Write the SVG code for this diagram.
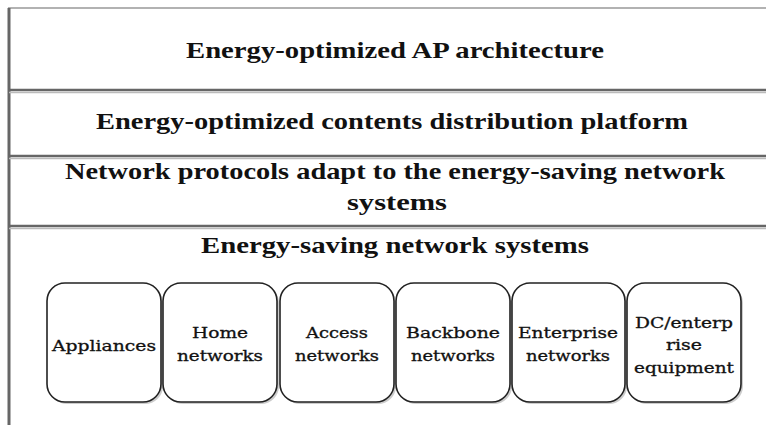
<svg xmlns="http://www.w3.org/2000/svg" width="766" height="425" viewBox="0 0 766 425">
<defs>
<style>
.layer{font-family:"Liberation Serif","DejaVu Serif",serif;font-size:23px;font-weight:bold;fill:#111;text-anchor:middle}
.lbl{font-family:"DejaVu Serif","Liberation Serif",serif;font-size:14.5px;font-weight:normal;fill:#111;text-anchor:middle;stroke:#111;stroke-width:0.3}
.box{fill:#fff;stroke:#222;stroke-width:1.6}
.shadow{fill:#999;opacity:0.5}
.sep{stroke:#666;stroke-width:2.5;fill:none}
.sep2{stroke:#bbb;stroke-width:1.5;fill:none}
</style>
</defs>
<rect width="766" height="425" fill="#fff"/>
<g id="frame">
<line x1="8" y1="8" x2="766" y2="8" stroke="#999" stroke-width="1.5"/>
<line x1="9" y1="8" x2="9" y2="425" stroke="#666" stroke-width="3"/>
<line class="sep" x1="9" y1="90" x2="766" y2="90"/><line class="sep2" x1="9" y1="92.5" x2="766" y2="92.5"/>
<line class="sep" x1="9" y1="156" x2="766" y2="156"/><line class="sep2" x1="9" y1="158.5" x2="766" y2="158.5"/>
<line class="sep" x1="9" y1="226" x2="766" y2="226"/><line class="sep2" x1="9" y1="228.5" x2="766" y2="228.5"/>
</g>
<g id="layer-ap"><text class="layer" x="395" y="58" textLength="418" lengthAdjust="spacingAndGlyphs">Energy-optimized AP architecture</text></g>
<g id="layer-cdp"><text class="layer" x="392" y="129" textLength="592" lengthAdjust="spacingAndGlyphs">Energy-optimized contents distribution platform</text></g>
<g id="layer-protocols"><text class="layer" x="395" y="179" textLength="660" lengthAdjust="spacingAndGlyphs">Network protocols adapt to the energy-saving network</text><text class="layer" x="397" y="210" textLength="100" lengthAdjust="spacingAndGlyphs">systems</text></g>
<g id="layer-systems"><text class="layer" x="395" y="253" textLength="388" lengthAdjust="spacingAndGlyphs">Energy-saving network systems</text></g>
<g id="connectors"></g>
<g id="box-appliances"><rect class="shadow" x="49" y="285" width="114" height="119" rx="18"/><rect class="box" x="47" y="283" width="114" height="119" rx="18"/><text class="lbl" x="104" y="351" textLength="104" lengthAdjust="spacingAndGlyphs">Appliances</text></g>
<g id="box-home"><rect class="shadow" x="165" y="285" width="114" height="119" rx="18"/><rect class="box" x="163" y="283" width="114" height="119" rx="18"/><text class="lbl" x="220" y="338" textLength="56" lengthAdjust="spacingAndGlyphs">Home</text><text class="lbl" x="220" y="361" textLength="86" lengthAdjust="spacingAndGlyphs">networks</text></g>
<g id="box-access"><rect class="shadow" x="282" y="285" width="114" height="119" rx="18"/><rect class="box" x="280" y="283" width="114" height="119" rx="18"/><text class="lbl" x="337" y="338" textLength="62" lengthAdjust="spacingAndGlyphs">Access</text><text class="lbl" x="337" y="361" textLength="84" lengthAdjust="spacingAndGlyphs">networks</text></g>
<g id="box-backbone"><rect class="shadow" x="398" y="285" width="114" height="119" rx="18"/><rect class="box" x="396" y="283" width="114" height="119" rx="18"/><text class="lbl" x="453" y="338" textLength="94" lengthAdjust="spacingAndGlyphs">Backbone</text><text class="lbl" x="453" y="361" textLength="84" lengthAdjust="spacingAndGlyphs">networks</text></g>
<g id="box-enterprise"><rect class="shadow" x="514" y="285" width="113" height="119" rx="18"/><rect class="box" x="512" y="283" width="113" height="119" rx="18"/><text class="lbl" x="568" y="338" textLength="100" lengthAdjust="spacingAndGlyphs">Enterprise</text><text class="lbl" x="568" y="361" textLength="84" lengthAdjust="spacingAndGlyphs">networks</text></g>
<g id="box-dc"><rect class="shadow" x="629" y="285" width="114" height="119" rx="18"/><rect class="box" x="627" y="283" width="114" height="119" rx="18"/><text class="lbl" x="684" y="328" textLength="98" lengthAdjust="spacingAndGlyphs">DC/enterp</text><text class="lbl" x="684" y="350" textLength="36" lengthAdjust="spacingAndGlyphs">rise</text><text class="lbl" x="684" y="373" textLength="100" lengthAdjust="spacingAndGlyphs">equipment</text></g>
</svg>
